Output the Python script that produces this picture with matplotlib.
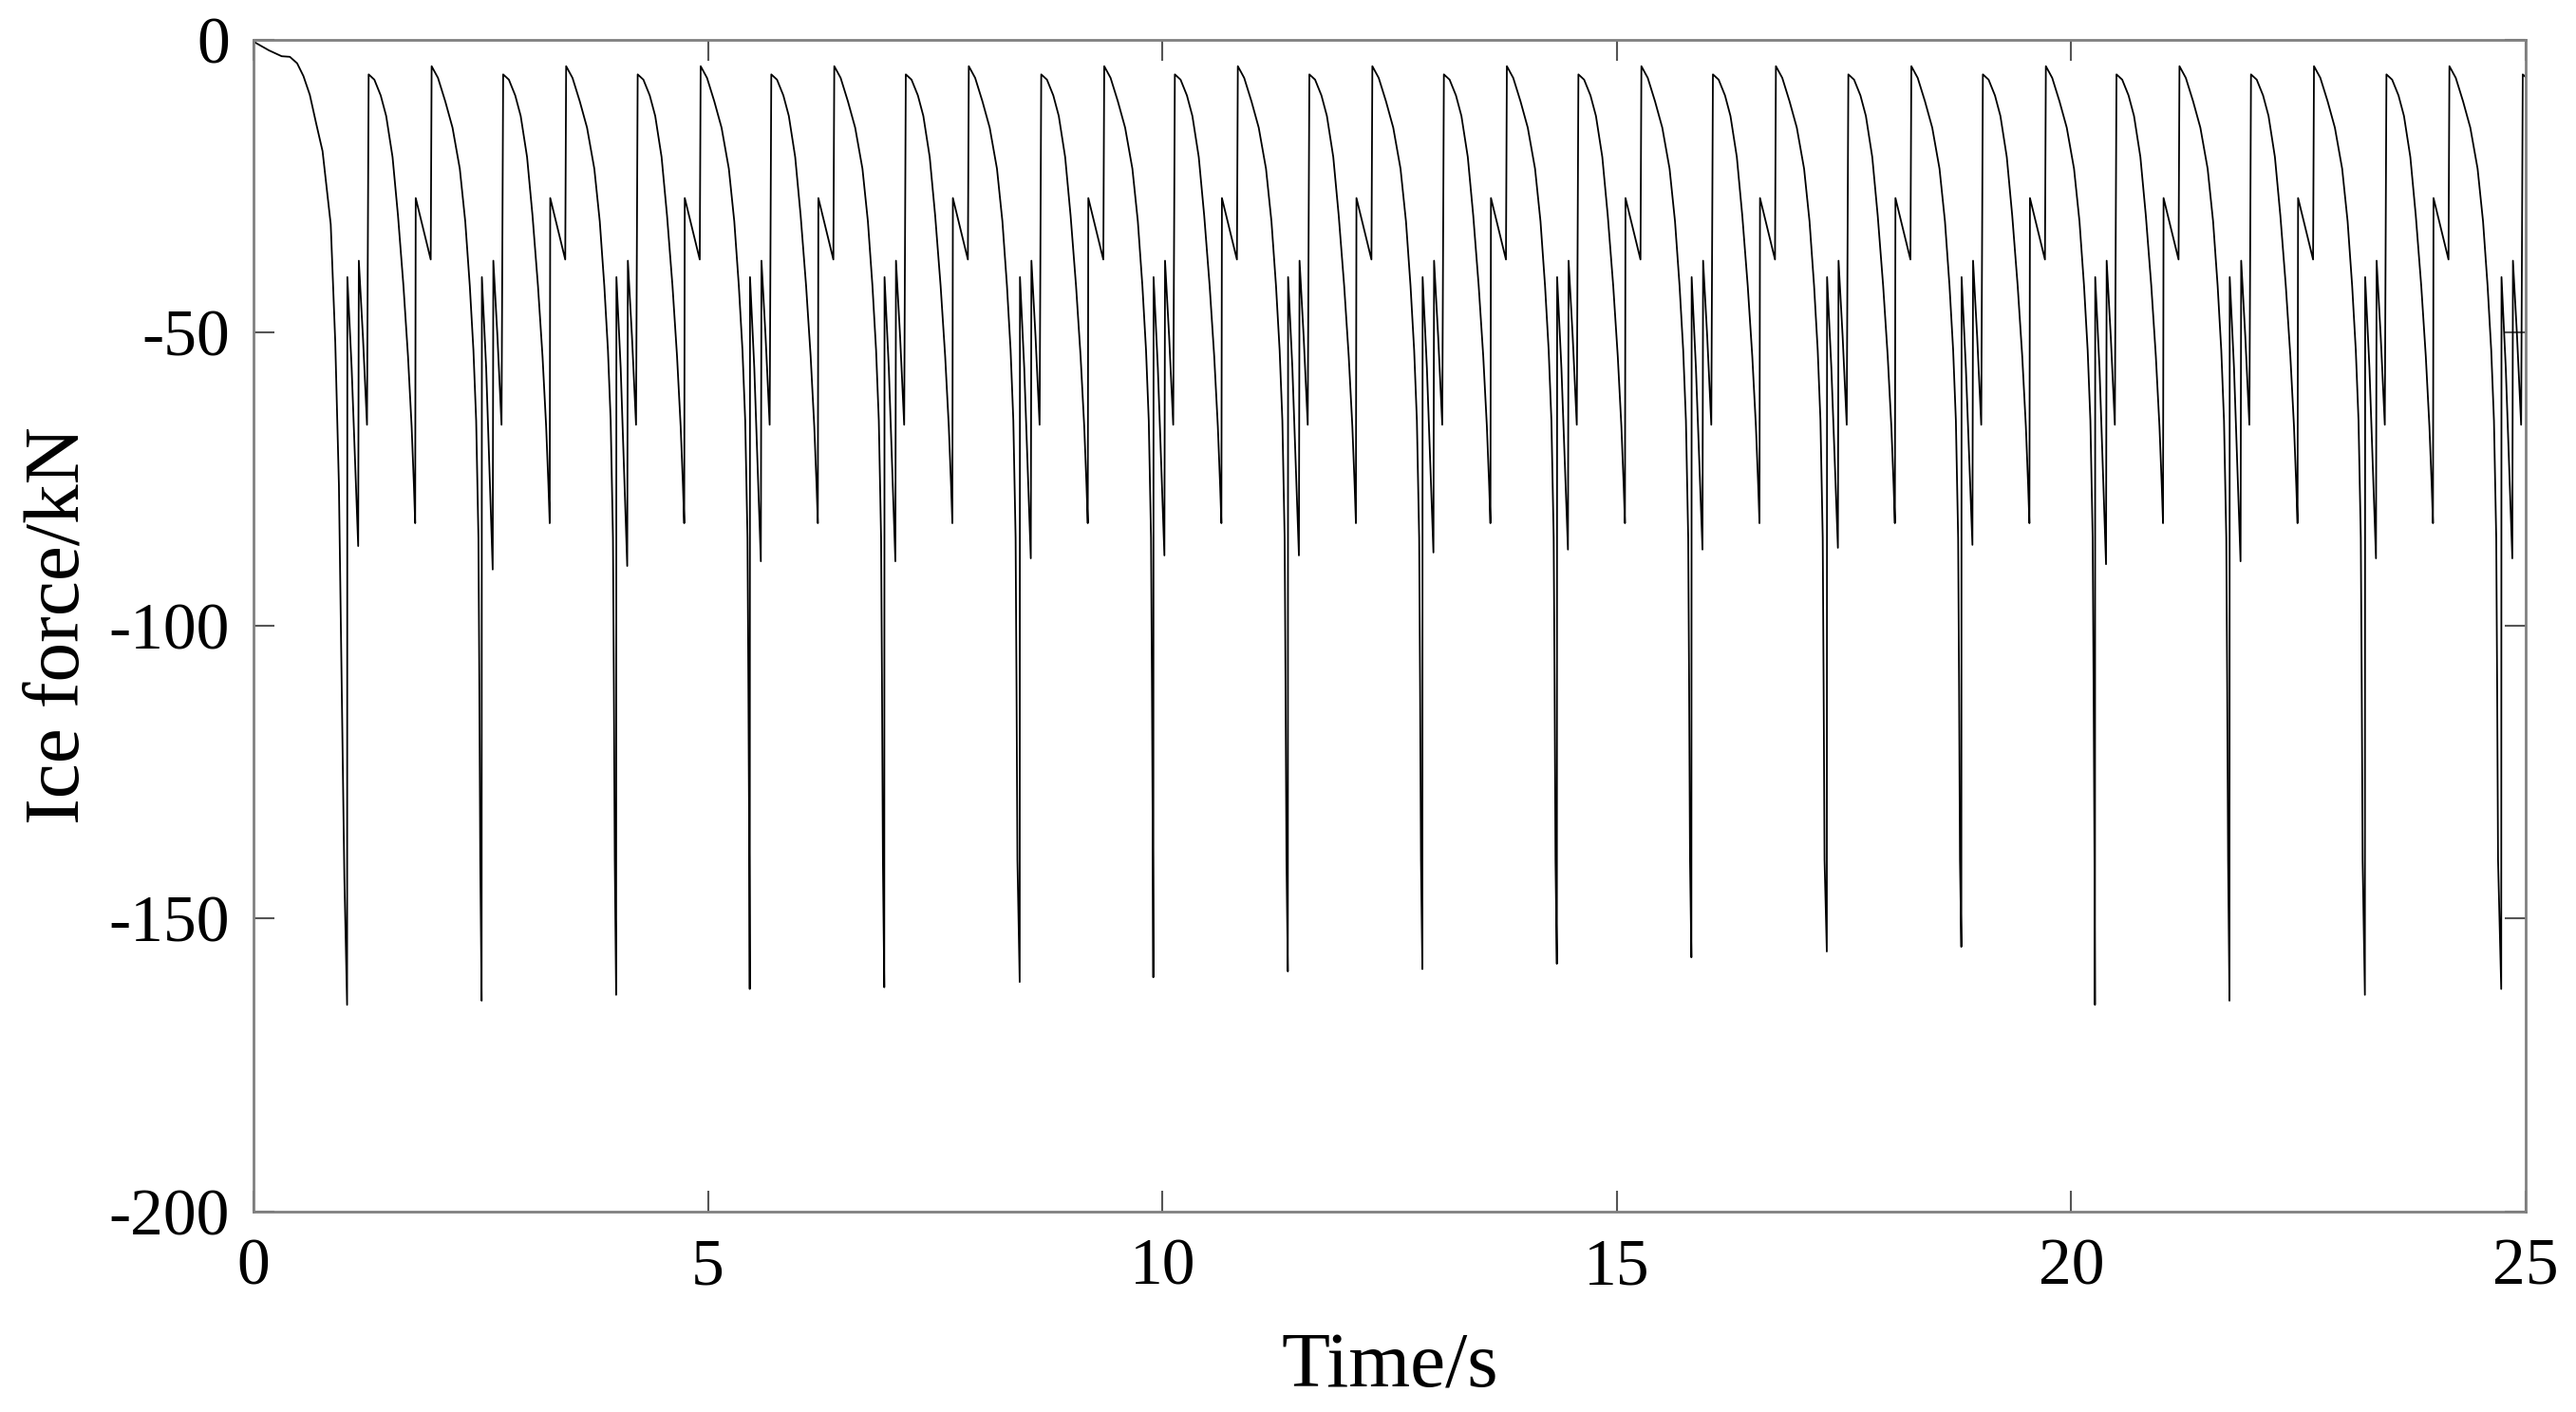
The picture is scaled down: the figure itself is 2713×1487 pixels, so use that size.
import matplotlib
matplotlib.use("Agg")
import matplotlib.pyplot as plt

# ---------------- data ----------------
# start-up ramp before the first big trough
startup_t = [0.00, 0.17, 0.31, 0.40, 0.48, 0.55, 0.62, 0.69, 0.76, 0.85, 0.90, 0.94, 0.97, 1.00]
startup_F = [-0.3, -1.8, -2.8, -2.9, -4.0, -6.2, -9.4, -14.3, -19.0, -31.5, -51.7, -76.0, -110.0, -143.0]

# times (s) and depths (kN) of the big troughs
trough_t = [1.03, 2.51, 3.99, 5.46, 6.94, 8.43, 9.90, 11.38, 12.86, 14.34,
            15.82, 17.31, 18.79, 20.26, 21.74, 23.23, 24.73]
trough_F = [-164.7, -164.0, -163.0, -162.0, -161.7, -160.8, -160.0, -159.0, -158.6, -157.7,
            -156.6, -155.6, -154.8, -164.7, -164.0, -163.0, -162.0]
# first sub-trough just after each big trough
sub1_F = [-86.4, -90.4, -89.8, -89.0, -89.0, -88.5, -88.0, -88.0, -87.5, -87.0,
          -87.0, -86.7, -86.2, -89.5, -89.0, -88.5, -88.5]

# shape of one cycle after a big trough (time after trough, force); None = sub1 value
shape_dt = [0.003, 0.05, 0.122, 0.129, 0.174, 0.219, 0.237, 0.30, 0.37, 0.43, 0.50,
            0.56, 0.62, 0.67, 0.71, 0.735, 0.749, 0.755, 0.92, 0.93, 1.00, 1.08,
            1.16, 1.24, 1.30, 1.35, 1.39, 1.42, 1.445, 1.455, 1.465]
shape_F = [-40.5, -56.0, None, -37.7, -50.6, -65.7, -5.9, -6.8, -9.5, -13.0, -20.0,
           -30.0, -42.0, -54.0, -66.0, -76.0, -82.5, -27.0, -37.5, -4.5, -6.5, -10.5,
           -15.0, -22.0, -31.0, -42.0, -53.0, -65.0, -85.0, -110.0, -140.0]

x_ticks = [0, 5, 10, 15, 20, 25]
y_ticks = [-200, -150, -100, -50, 0]

# ---------------- build the series ----------------
time = list(startup_t)
force = list(startup_F)
for T, FT, S1 in zip(trough_t, trough_F, sub1_F):
    time.append(T)
    force.append(FT)
    for dt, f in zip(shape_dt, shape_F):
        time.append(T + dt)
        force.append(S1 if f is None else f)

# ---------------- plot ----------------
plt.rcParams['font.family'] = ['Liberation Serif', 'DejaVu Serif']
fig = plt.figure(figsize=(27.13, 14.87), dpi=100)
ax = fig.add_axes([0.0984, 0.1419, 0.8821, 0.8299])

ax.plot(time, force, color='black', lw=1.3)

ax.set_xlim(0, 25)
ax.set_ylim(-200, 0)
ax.set_xticks(x_ticks)
ax.set_yticks(y_ticks)
ax.set_xticklabels([str(v) for v in x_ticks])
ax.set_yticklabels([str(v) for v in y_ticks])

frame_col = '#808080'
for s in ax.spines.values():
    s.set_color(frame_col)
    s.set_linewidth(2.0)
ax.tick_params(direction='in', length=16, width=1.5, color='#555555',
               top=True, right=True, labelsize=50, labelcolor='black')
ax.tick_params(axis='x', pad=20)
ax.tick_params(axis='y', pad=18)

ax.set_xlabel('Time/s', fontsize=60, labelpad=26)
ax.set_ylabel('Ice force/kN', fontsize=60, labelpad=10)

fig.savefig('out.png', dpi=100)
